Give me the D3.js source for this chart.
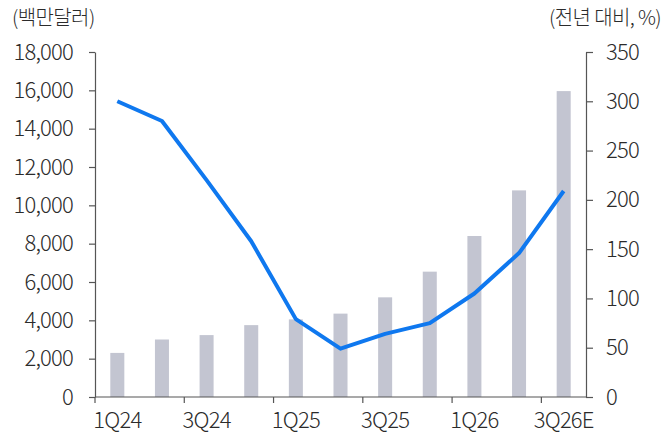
<!DOCTYPE html>
<html>
<head>
<meta charset="utf-8">
<script src="https://cdn.jsdelivr.net/npm/d3@7"></script>
<style>
  body { margin: 0; background: #fff; }
  text { font-family: "Noto Sans CJK KR", "Noto Sans", sans-serif; font-weight: 300; fill: #2b2b2b; }
</style>
</head>
<body>
<svg width="662" height="437"></svg>
<script>
const quarters = ['1Q24', '2Q24', '3Q24', '4Q24', '1Q25', '2Q25', '3Q25', '4Q25', '1Q26', '2Q26', '3Q26E'];
const xLabels = ['1Q24', '', '3Q24', '', '1Q25', '', '3Q25', '', '1Q26', '', '3Q26E'];
const revenue = [2300, 3000, 3230, 3750, 4050, 4350, 5200, 6540, 8400, 10780, 15960];   // 백만달러
const yoy = [300, 280, 220, 158, 79, 49, 64, 75, 105, 146, 209];                          // 전년 대비 %
const leftTicks = [0, 2000, 4000, 6000, 8000, 10000, 12000, 14000, 16000, 18000];
const rightTicks = [0, 50, 100, 150, 200, 250, 300, 350];

const BAR_COLOR = '#c3c5d1';
const LINE_COLOR = '#0f78ef';
const AXIS_COLOR = '#555';

const margin = { top: 52, right: 76, bottom: 40, left: 95 };
const width = 662 - margin.left - margin.right;
const height = 437 - margin.top - margin.bottom;

const svg = d3.select('svg')
    .append('g')
    .attr('transform', 'translate(' + margin.left + ',' + margin.top + ')');

const n = quarters.length;
const pad = 0.686;
const x = d3.scaleBand()
    .domain(quarters)
    .range([0, width])
    .paddingInner(pad)
    .paddingOuter(pad / 2);
// category boundaries, for the tick marks between quarters
const xb = d3.scaleLinear().domain([0, n]).range([0, width]);

const yL = d3.scaleLinear().domain([0, 18000]).range([height, 0]);
const yR = d3.scaleLinear().domain([0, 350]).range([height, 0]);

/* bars */
svg.selectAll('rect.bar')
    .data(revenue)
    .enter()
    .append('rect')
    .attr('class', 'bar')
    .attr('x', (d, i) => x(quarters[i]))
    .attr('width', x.bandwidth())
    .attr('y', d => yL(d))
    .attr('height', d => height - yL(d))
    .attr('fill', BAR_COLOR);

/* line */
svg.append('path')
    .datum(yoy)
    .attr('fill', 'none')
    .attr('stroke', LINE_COLOR)
    .attr('stroke-width', 4)
    .attr('stroke-linejoin', 'round')
    .attr('d', d3.line()
        .x((d, i) => x(quarters[i]) + x.bandwidth() / 2)
        .y(d => yR(d)));

/* left axis */
const gl = svg.append('g')
    .call(d3.axisLeft(yL)
        .tickValues(leftTicks)
        .tickFormat(d3.format(','))
        .tickSize(6)
        .tickSizeOuter(0)
        .tickPadding(16));

/* right axis */
const gr = svg.append('g')
    .attr('transform', 'translate(' + width + ',0)')
    .call(d3.axisRight(yR)
        .tickValues(rightTicks)
        .tickSize(7)
        .tickSizeOuter(0)
        .tickPadding(13));

/* bottom axis */
const gb = svg.append('g')
    .attr('transform', 'translate(0,' + height + ')');
gb.append('line')
    .attr('x1', 0).attr('x2', width)
    .attr('stroke', AXIS_COLOR)
    .attr('stroke-width', 1.2);
gb.selectAll('line.tick')
    .data(d3.range(0, n, 2))
    .enter()
    .append('line')
    .attr('class', 'tick')
    .attr('x1', d => xb(d)).attr('x2', d => xb(d))
    .attr('y1', 0).attr('y2', 6)
    .attr('stroke', AXIS_COLOR)
    .attr('stroke-width', 1.2);
gb.selectAll('text')
    .data(xLabels)
    .enter()
    .append('text')
    .attr('x', (d, i) => x(quarters[i]) + x.bandwidth() / 2)
    .attr('y', 31)
    .attr('text-anchor', 'middle')
    .style('font-size', '22px')
    .style('letter-spacing', '-0.8px')
    .text(d => d);

[gl, gr].forEach(g => {
    g.select('.domain').attr('stroke', AXIS_COLOR).attr('stroke-width', 1.2);
    g.selectAll('.tick line').attr('stroke', AXIS_COLOR).attr('stroke-width', 1.2);
    g.selectAll('.tick text')
        .style('font-size', '22px')
        .style('letter-spacing', '-0.8px')
        .attr('fill', '#2b2b2b');
});

/* unit titles */
svg.append('text')
    .attr('x', -83)
    .attr('y', -27)
    .style('font-size', '20px')
    .style('letter-spacing', '-0.6px')
    .text('(백만달러)');

svg.append('text')
    .attr('x', width + 75)
    .attr('y', -27)
    .attr('text-anchor', 'end')
    .style('font-size', '20px')
    .style('letter-spacing', '-0.6px')
    .text('(전년 대비, %)');
</script>
</body>
</html>
